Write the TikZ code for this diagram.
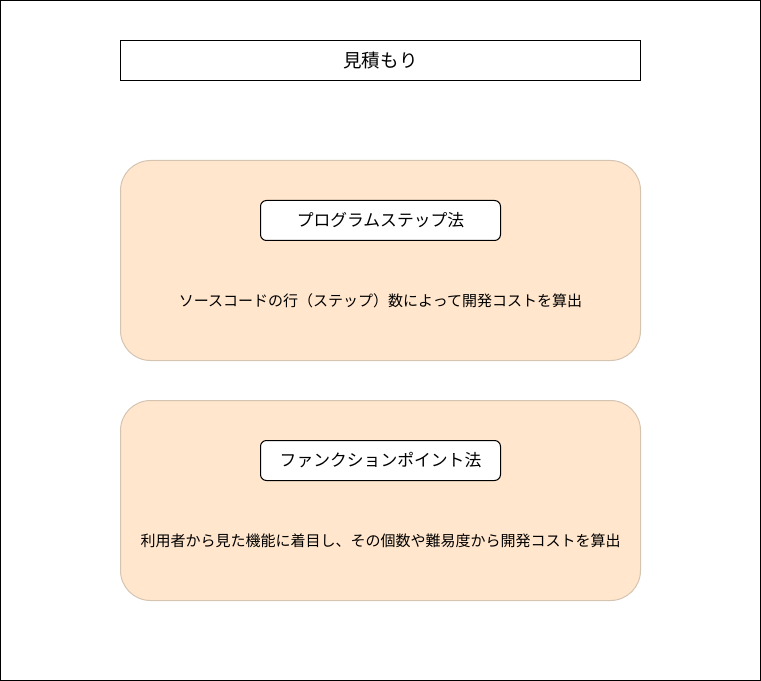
\documentclass[tikz,border=0pt]{standalone}
\usepackage{fontspec}
\setmainfont{Noto Sans CJK JP}
\definecolor{boxfill}{RGB}{255,230,204}
\definecolor{boxline}{RGB}{214,196,178}
\begin{document}
\begin{tikzpicture}[x=0.75pt,y=-0.75pt,
  titlebox/.style={draw=black,line width=0.75pt,fill=white,minimum width=390pt,minimum height=30pt,inner sep=0pt,font=\fontsize{13.9pt}{16pt}\selectfont},
  group/.style={draw=boxline,line width=0.75pt,fill=boxfill,rounded corners=22.5pt,minimum width=390pt,minimum height=150pt,inner sep=0pt},
  namebox/.style={draw=black,line width=0.75pt,fill=white,rounded corners=4.5pt,minimum width=180pt,minimum height=30pt,inner sep=0pt,font=\fontsize{12.6pt}{15pt}\selectfont},
  desc/.style={inner sep=0pt,font=\fontsize{11.25pt}{14pt}\selectfont}]
\useasboundingbox (0,0) rectangle (761,681);
\draw[line width=0.75pt] (0.5,0.5) rectangle (760.5,680.5);
\node[titlebox] (title) at (380.5,60.5) {見積もり};
\node[group] (g1) at (380.5,260.5) {};
\node[namebox] (n1) at (380.5,220.5) {プログラムステップ法};
\node[desc] (d1) at (380.5,300.5) {ソースコードの行（ステップ）数によって開発コストを算出};
\node[group] (g2) at (380.5,500.5) {};
\node[namebox] (n2) at (380.5,460.5) {ファンクションポイント法};
\node[desc] (d2) at (380.5,540.5) {利用者から見た機能に着目し、その個数や難易度から開発コストを算出};
\end{tikzpicture}
\end{document}
